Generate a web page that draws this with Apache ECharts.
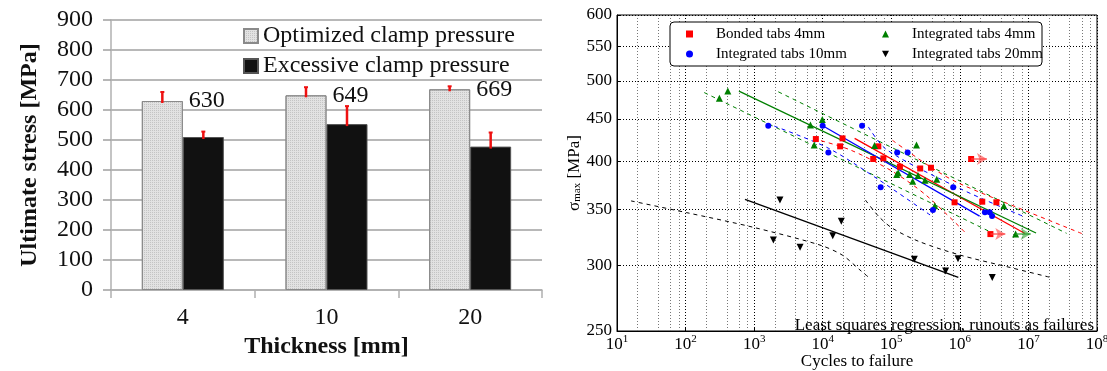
<!DOCTYPE html>
<html><head><meta charset="utf-8">
<script src="https://cdn.jsdelivr.net/npm/echarts@6/dist/echarts.min.js"></script>
<style>html,body{margin:0;padding:0;background:#fff}#c{width:1107px;height:371px}</style>
</head><body><div id="c"></div>
<script>
// ---------- Left chart: ultimate stress vs thickness ----------
const thicknessCategories = ['4', '10', '20'];
const optimizedStress = [630, 649, 669];
const optimizedError = [30, 27, 10];
const excessiveStress = [510, 553, 478];
const excessiveError = [18, 60, 47];

// ---------- Right chart: S-N data, [cycles, sigma_max MPa] ----------
const bondedTabs4 = [[7940,425.5],[19450,426.3],[17960,417],[64700,417],[54500,402.6],[76700,403.3],[133700,394],[264000,392.2],[379000,393],[837000,357.1],[2120000,357.7],[3410000,357.1],[1460000,402.6],[2790000,327]];
const integratedTabs4 = [[311,476.3],[413,486],[6620,442.3],[9860,449.3],[7510,418.5],[57000,418],[233000,418.5],[120000,385.8],[126000,387.5],[185000,385.8],[205000,378.5],[245000,384.5],[310000,379.5],[460000,380.6],[430000,353.8],[4380000,353.8],[6500000,327]];
const integratedTabs10 = [[1607,441.5],[9970,441.5],[12090,410],[37500,441.5],[121900,410],[173000,410],[70000,372.3],[800000,372.3],[405000,349.6],[2320000,347.3],[2720000,347.3],[2950000,343.7]];
const integratedTabs20 = [[2380,359.5],[1906,321.7],[4670,315.3],[14000,325.5],[18660,338.8],[216700,305],[940000,305.3],[620000,295.3],[2970000,290]];

// runouts: [cycles, stress, arrow end cycles]
const bondedRunouts = [[1460000,402.6,2480000],[2790000,327,4600000]];
const integrated4Runouts = [[6500000,327,10800000]];

// regression lines and scatter bands
const bondedFit = [[29200,426.3],[8900000,327.5]];
const bondedBandLow = [[7300,426],[25000,413],[104000,389],[324000,364],[1260000,327]];
const bondedBandHigh = [[104000,424],[406000,392],[1000000,376],[7500000,351],[60000000,327.5]];
const integrated4Fit = [[600,486],[12900000,328]];
const integrated4BandLow = [[187,484],[3000000,328]];
const integrated4BandHigh = [[2250,485],[36000000,327.7]];
const integrated10Fit = [[10000,441.5],[1940000,343.7]];
const integrated10BandLow = [[1970,441],[12000,415],[66000,380],[383000,344]];
const integrated10BandHigh = [[46300,440],[86000,413],[1000000,371],[8400000,343.5]];
const integrated20Fit = [[736,360],[950000,290]];
const integrated20BandLow = [[16,358.5],[104,347],[973,333.2],[9120,317.2],[19300,308.5],[35000,296],[47000,290]];
const integrated20BandHigh = [[42000,359.3],[66000,343.2],[104000,332.3],[258000,320.2],[1000000,308.6],[5500000,298],[21000000,290]];

// axis ticks
const stressTicks = [250, 300, 350, 400, 450, 500, 550, 600];
const cycleDecades = [1e1, 1e2, 1e3, 1e4, 1e5, 1e6, 1e7, 1e8];
const minorMultipliers = [2, 4, 6, 8];

const SERIF = 'Liberation Serif';
const minorCycles = [];
cycleDecades.slice(0, -1).forEach(d => minorMultipliers.forEach(m => minorCycles.push(d * m)));

const RED = '#ff0000', GREEN = '#008000', BLUE = '#0000ff', BLACK = '#000000';
const invTri = 'path://M0,0L10,0L5,9Z';

function fitLine(name, data, color, dashed) {
  return {
    name: name, type: 'line', xAxisIndex: 1, yAxisIndex: 1, data: data,
    showSymbol: false, symbol: 'none', smooth: data.length > 2 ? 0.3 : false, silent: true, z: 2,
    lineStyle: { color: color, width: dashed ? 1 : 1.3, type: dashed ? [4, 4] : 'solid' }
  };
}
function runoutArrows(list, color) {
  return {
    silent: true, symbol: ['none', 'arrow'], symbolSize: [9, 10], label: { show: false },
    lineStyle: { color: color, width: 2, type: 'solid', opacity: 0.6 },
    data: list.map(r => [{ coord: [r[0], r[1]] }, { coord: [r[2], r[1]] }])
  };
}
function errorBars(values, errors, offset, name) {
  return {
    name: name, type: 'custom', xAxisIndex: 0, yAxisIndex: 0, z: 5, silent: true,
    data: values.map((v, i) => [i, v, v + errors[i]]),
    renderItem: function (params, api) {
      const p1 = api.coord([api.value(0), api.value(1)]);
      const p2 = api.coord([api.value(0), api.value(2)]);
      const x = p1[0] + offset;
      return { type: 'group', children: [
        { type: 'line', shape: { x1: x, y1: p1[1] + 2, x2: x, y2: p2[1] }, style: { stroke: '#ee1111', lineWidth: 2.5 } },
        { type: 'line', shape: { x1: x - 2, y1: p2[1], x2: x + 2, y2: p2[1] }, style: { stroke: '#ee1111', lineWidth: 2 } }
      ] };
    }
  };
}

const chart = echarts.init(document.getElementById('c'));
chart.setOption({
  backgroundColor: '#ffffff',
  animation: false,
  textStyle: { fontFamily: SERIF },
  grid: [
    { left: 111, top: 20, width: 431, height: 270, outerBoundsMode: 'none', containLabel: false },
    { left: 617, top: 15, width: 480, height: 316, show: true, borderColor: '#000', borderWidth: 1, backgroundColor: 'transparent',
      outerBoundsMode: 'none', containLabel: false }
  ],
  legend: [
    { data: ['Optimized clamp pressure', 'Excessive clamp pressure'], orient: 'vertical', left: 238, top: 19,
      itemWidth: 14, itemHeight: 14, itemGap: 6, icon: 'rect',
      textStyle: { fontFamily: SERIF, fontSize: 24, lineHeight: 24, color: '#111' } },
    { data: ['Bonded tabs 4mm', 'Integrated tabs 10mm'], orient: 'vertical', left: 681, top: 21,
      itemWidth: 7, itemHeight: 7, itemGap: 4, z: 10,
      textStyle: { fontFamily: SERIF, fontSize: 15, lineHeight: 16, color: '#000', padding: [0, 0, 0, 18] } },
    { data: ['Integrated tabs 4mm', 'Integrated tabs 20mm'], orient: 'vertical', left: 877, top: 21,
      itemWidth: 7, itemHeight: 7, itemGap: 4, z: 10,
      textStyle: { fontFamily: SERIF, fontSize: 15, lineHeight: 16, color: '#000', padding: [0, 0, 0, 18] } }
  ],
  graphic: [
    { type: 'rect', z: 5, shape: { x: 670, y: 22, width: 372, height: 44, r: 4 }, style: { fill: '#fff', stroke: '#000', lineWidth: 1 } },
    { type: 'text', z: 5, style: { text: 'Least squares regression, runouts as failures', x: 1094, y: 334,
      align: 'right', verticalAlign: 'bottom', font: '17px "Liberation Serif"', fill: '#000' } }
  ],
  xAxis: [
    { type: 'category', gridIndex: 0, data: thicknessCategories,
      axisLine: { lineStyle: { color: '#b0b0b0', width: 1.5 } },
      axisTick: { show: true, length: 8, lineStyle: { color: '#b0b0b0', width: 1.5 } },
      axisLabel: { fontFamily: SERIF, fontSize: 24, color: '#111', margin: 16 },
      name: 'Thickness [mm]', nameLocation: 'middle', nameGap: 42,
      nameTextStyle: { fontFamily: SERIF, fontSize: 24, fontWeight: 'bold', color: '#111' } },
    { type: 'log', gridIndex: 1, logBase: 10, min: 10, max: 1e8,
      axisLine: { show: true, lineStyle: { color: '#000' } },
      axisTick: { show: true, inside: true, length: 4, customValues: cycleDecades, lineStyle: { color: '#000' } },
      axisLabel: { customValues: cycleDecades, margin: 3, color: '#000', fontFamily: SERIF, fontSize: 17,
        formatter: v => '10{s|' + Math.round(Math.log10(v)) + '}',
        rich: { s: { fontSize: 11, fontFamily: SERIF, verticalAlign: 'top', color: '#000', padding: [0, 0, 10, 0] } } },
      splitLine: { show: true, lineStyle: { color: '#000', type: [1, 2], width: 1 } },
      name: 'Cycles to failure', nameLocation: 'middle', nameGap: 22, nameMoveOverlap: false,
      nameTextStyle: { fontFamily: SERIF, fontSize: 17, color: '#000' } },
    { type: 'log', gridIndex: 1, logBase: 10, min: 10, max: 1e8,
      axisLine: { show: false }, axisLabel: { show: false },
      axisTick: { show: false, customValues: minorCycles },
      splitLine: { show: true, lineStyle: { color: '#777', type: [1, 2], width: 1 } } }
  ],
  yAxis: [
    { type: 'value', gridIndex: 0, min: 0, max: 900, interval: 100,
      axisLine: { show: true, lineStyle: { color: '#b0b0b0', width: 1.5 } },
      axisTick: { show: true, length: 8, lineStyle: { color: '#a0a0a0', width: 1.5 } },
      axisLabel: { fontFamily: SERIF, fontSize: 24, color: '#111', margin: 18 },
      splitLine: { lineStyle: { color: '#a0a0a0', width: 1.5 } },
      name: 'Ultimate stress [MPa]', nameLocation: 'middle', nameRotate: 90, nameGap: 69,
      nameTextStyle: { fontFamily: SERIF, fontSize: 24, fontWeight: 'bold', color: '#111' } },
    { type: 'log', gridIndex: 1, logBase: 10, min: 250, max: 600,
      axisLine: { show: true, lineStyle: { color: '#000' } },
      axisTick: { show: true, inside: true, length: 4, customValues: stressTicks, lineStyle: { color: '#000' } },
      axisLabel: { customValues: stressTicks, margin: 5, color: '#000', fontFamily: SERIF, fontSize: 17, formatter: v => String(Math.round(v)) },
      splitLine: { show: true, lineStyle: { color: '#000', type: [1, 2], width: 1 } },
      name: 'σ{sub|max} [MPa]', nameLocation: 'middle', nameRotate: 90, nameGap: 34,
      nameTextStyle: { fontFamily: SERIF, fontSize: 17, color: '#000',
        rich: { sub: { fontSize: 11, fontFamily: SERIF, verticalAlign: 'bottom', color: '#000' } } } }
  ],
  series: [
    { name: 'Optimized clamp pressure', type: 'bar', xAxisIndex: 0, yAxisIndex: 0, data: optimizedStress,
      barWidth: 41, barGap: '0%',
      itemStyle: { color: '#e2e2e2', borderColor: '#8a8a8a', borderWidth: 1,
        decal: { symbol: 'rect', symbolSize: 1, dashArrayX: [1, 1], dashArrayY: [1, 1], color: 'rgba(140,140,140,0.35)', rotation: 0 } },
      label: { show: true, position: ['100%', 0], offset: [6, 0], align: 'left', verticalAlign: 'middle',
        fontFamily: SERIF, fontSize: 24, color: '#111' } },
    { name: 'Excessive clamp pressure', type: 'bar', xAxisIndex: 0, yAxisIndex: 0, data: excessiveStress,
      barWidth: 41, barGap: '0%',
      itemStyle: { color: '#111111', borderColor: '#555', borderWidth: 1 } },
    errorBars(optimizedStress, optimizedError, -20.5, 'optErr'),
    errorBars(excessiveStress, excessiveError, 20.5, 'excErr'),

    fitLine('bondedFit', bondedFit, RED, false),
    fitLine('bondedBandLow', bondedBandLow, RED, true),
    fitLine('bondedBandHigh', bondedBandHigh, RED, true),
    fitLine('int4Fit', integrated4Fit, GREEN, false),
    fitLine('int4BandLow', integrated4BandLow, GREEN, true),
    fitLine('int4BandHigh', integrated4BandHigh, GREEN, true),
    fitLine('int10Fit', integrated10Fit, BLUE, false),
    fitLine('int10BandLow', integrated10BandLow, BLUE, true),
    fitLine('int10BandHigh', integrated10BandHigh, BLUE, true),
    fitLine('int20Fit', integrated20Fit, BLACK, false),
    fitLine('int20BandLow', integrated20BandLow, BLACK, true),
    fitLine('int20BandHigh', integrated20BandHigh, BLACK, true),

    { name: 'Bonded tabs 4mm', type: 'scatter', xAxisIndex: 1, yAxisIndex: 1, data: bondedTabs4,
      symbol: 'rect', symbolSize: 6, itemStyle: { color: RED, opacity: 1 }, z: 4,
      markLine: runoutArrows(bondedRunouts, '#ff4040') },
    { name: 'Integrated tabs 4mm', type: 'scatter', xAxisIndex: 1, yAxisIndex: 1, data: integratedTabs4,
      symbol: 'triangle', symbolSize: 7, itemStyle: { color: GREEN, opacity: 1 }, z: 4,
      markLine: runoutArrows(integrated4Runouts, '#30a030') },
    { name: 'Integrated tabs 10mm', type: 'scatter', xAxisIndex: 1, yAxisIndex: 1, data: integratedTabs10,
      symbol: 'circle', symbolSize: 6, itemStyle: { color: BLUE, opacity: 1 }, z: 4 },
    { name: 'Integrated tabs 20mm', type: 'scatter', xAxisIndex: 1, yAxisIndex: 1, data: integratedTabs20,
      symbol: invTri, symbolSize: 7, itemStyle: { color: BLACK, opacity: 1 }, z: 4 }
  ]
});
</script></body></html>
